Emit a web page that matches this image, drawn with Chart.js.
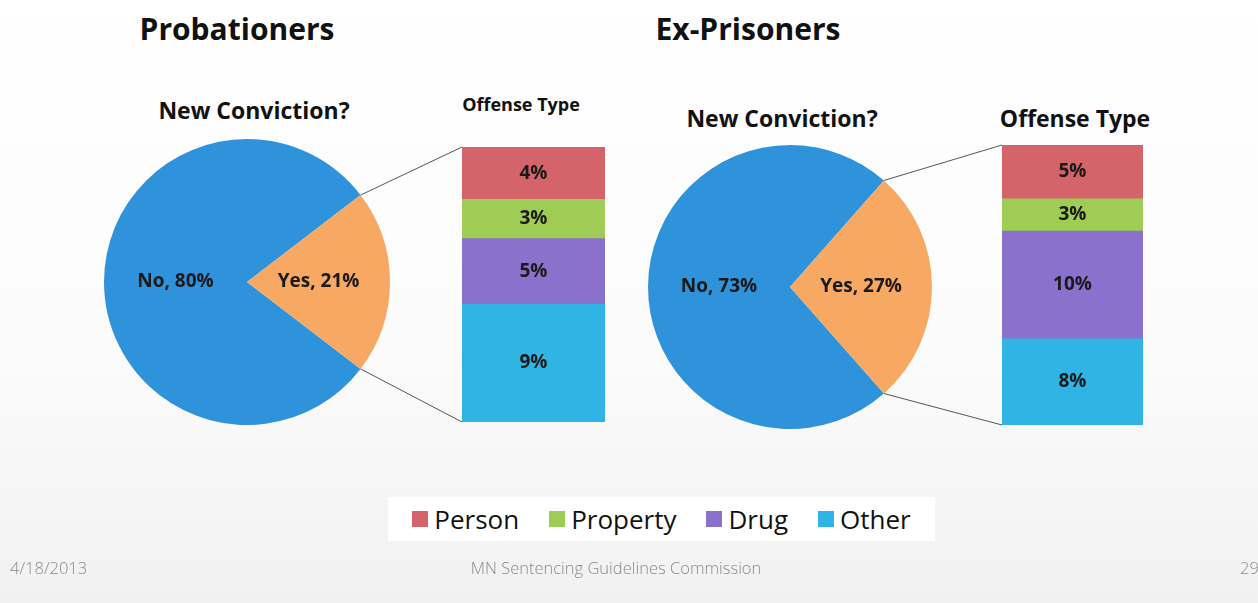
<!DOCTYPE html>
<html>
<head>
<meta charset="utf-8">
<script src="https://cdn.jsdelivr.net/npm/chart.js@4.4.1/dist/chart.umd.min.js"></script>
<style>
  html, body { margin: 0; padding: 0; }
  body {
    width: 1258px; height: 603px; position: relative; overflow: hidden;
    background: linear-gradient(#ffffff 0%, #fbfbfb 60%, #f1f1f1 100%);
    font-family: "Open Sans", "Liberation Sans", sans-serif;
  }
  .t { position: absolute; white-space: nowrap; transform: translate(-50%, -50%); color: #111; font-weight: bold; }
  canvas { position: absolute; }
  #legend {
    position: absolute; left: 388px; top: 497px; width: 547px; height: 44px;
    background: #fff; display: flex; align-items: center; justify-content: center;
    font-size: 26px; color: #111;
  }
  #legend span.sw { display: inline-block; width: 16px; height: 16px; margin-right: 6px; }
  #legend div { display: flex; align-items: center; margin: 0 15px; }
  .foot { position: absolute; top: 556px; font-size: 16.5px; color: #8a8a8a; white-space: nowrap; font-family: "Open Sans", sans-serif; font-weight: 300; }
</style>
</head>
<body>

<div class="t" style="left:237px;top:28px;font-size:30px;">Probationers</div>
<div class="t" style="left:748px;top:28px;font-size:30px;">Ex-Prisoners</div>
<div class="t" style="left:254px;top:110px;font-size:23px;">New Conviction?</div>
<div class="t" style="left:782px;top:118px;font-size:23px;">New Conviction?</div>
<div class="t" style="left:521px;top:104px;font-size:18px;">Offense Type</div>
<div class="t" style="left:1075px;top:118px;font-size:23px;">Offense Type</div>

<canvas id="pie1" width="286" height="286" style="left:104px;top:139px;"></canvas>
<canvas id="bar1" width="143" height="275" style="left:462px;top:147px;"></canvas>
<canvas id="pie2" width="284" height="284" style="left:648px;top:145px;"></canvas>
<canvas id="bar2" width="141" height="280" style="left:1002px;top:145px;"></canvas>
<canvas id="links" width="1258" height="603" style="left:0;top:0;pointer-events:none;"></canvas>

<div id="legend"></div>

<div class="foot" style="left:10px;">4/18/2013</div>
<div class="foot" style="left:616px;transform:translateX(-50%);">MN Sentencing Guidelines Commission</div>
<div class="foot" style="left:1240px;">29</div>

<script>
// data
const convictionLabels = ['No', 'Yes'];
const probationConviction = [80, 21];
const exPrisonConviction = [73, 27];

const offenseTypes = ['Person', 'Property', 'Drug', 'Other'];
const probationOffense = [4, 3, 5, 9];
const exPrisonOffense = [5, 3, 10, 8];

const pieColors = ['#2f93db', '#f7a862'];
const offenseColors = ['#d5636a', '#9fcc55', '#8a72cc', '#2fb4e4'];

const labelFont = 'bold 19px "Open Sans", sans-serif';

// labels inside the pie slices
const pieLabelPlugin = {
  id: 'pieLabels',
  afterDatasetsDraw(chart) {
    const ctx = chart.ctx;
    const ds = chart.data.datasets[0];
    ctx.save();
    ctx.font = labelFont;
    ctx.fillStyle = '#1a1a1a';
    ctx.textAlign = 'center';
    ctx.textBaseline = 'middle';
    chart.getDatasetMeta(0).data.forEach((arc, i) => {
      const p = arc.getCenterPoint();
      ctx.fillText(chart.data.labels[i] + ', ' + ds.data[i] + '%', p.x, p.y);
    });
    ctx.restore();
  }
};

// labels inside the stacked bar pieces
const barLabelPlugin = {
  id: 'barLabels',
  afterDatasetsDraw(chart) {
    const ctx = chart.ctx;
    ctx.save();
    ctx.font = labelFont;
    ctx.fillStyle = '#1a1a1a';
    ctx.textAlign = 'center';
    ctx.textBaseline = 'middle';
    chart.data.datasets.forEach((ds, i) => {
      const bar = chart.getDatasetMeta(i).data[0];
      ctx.fillText(ds.data[0] + '%', bar.x, (bar.y + bar.base) / 2);
    });
    ctx.restore();
  }
};

function makePie(id, values) {
  const total = values.reduce((a, b) => a + b, 0);
  const noDeg = values[0] / total * 360;
  const yesDeg = values[1] / total * 360;
  return new Chart(document.getElementById(id), {
    type: 'pie',
    data: {
      labels: convictionLabels,
      datasets: [{ data: values, backgroundColor: pieColors, borderWidth: 0 }]
    },
    options: {
      responsive: false,
      animation: false,
      rotation: 90 - noDeg - yesDeg / 2, // puts the "Yes" slice at 3 o'clock
      layout: { padding: 0 },
      plugins: { legend: { display: false }, tooltip: { enabled: false } }
    },
    plugins: [pieLabelPlugin]
  });
}

function makeBar(id, values) {
  const total = values.reduce((a, b) => a + b, 0);
  // stack from the bottom: Other, Drug, Property, Person
  const datasets = offenseTypes.map((name, i) => ({
    label: name,
    data: [values[i]],
    backgroundColor: offenseColors[i],
    borderWidth: 0,
    barPercentage: 1,
    categoryPercentage: 1
  })).reverse();
  return new Chart(document.getElementById(id), {
    type: 'bar',
    data: { labels: ['Yes'], datasets: datasets },
    options: {
      responsive: false,
      animation: false,
      layout: { padding: 0 },
      scales: {
        x: { stacked: true, display: false },
        y: { stacked: true, display: false, min: 0, max: total }
      },
      plugins: { legend: { display: false }, tooltip: { enabled: false } }
    },
    plugins: [barLabelPlugin]
  });
}

const pie1 = makePie('pie1', probationConviction);
const bar1 = makeBar('bar1', probationOffense);
const pie2 = makePie('pie2', exPrisonConviction);
const bar2 = makeBar('bar2', exPrisonOffense);

// connector lines from the "Yes" slice edges to the bar corners
function drawLinks(pie, bar) {
  const ctx = document.getElementById('links').getContext('2d');
  const pc = pie.canvas, bc = bar.canvas;
  const arc = pie.getDatasetMeta(0).data[1];
  const ox = pc.offsetLeft, oy = pc.offsetTop;
  const bx = bc.offsetLeft + bar.chartArea.left;
  const top = bc.offsetTop + bar.chartArea.top;
  const bottom = bc.offsetTop + bar.chartArea.bottom;
  const p1 = [ox + arc.x + arc.outerRadius * Math.cos(arc.startAngle), oy + arc.y + arc.outerRadius * Math.sin(arc.startAngle)];
  const p2 = [ox + arc.x + arc.outerRadius * Math.cos(arc.endAngle), oy + arc.y + arc.outerRadius * Math.sin(arc.endAngle)];
  ctx.strokeStyle = '#555';
  ctx.lineWidth = 1;
  ctx.beginPath();
  ctx.moveTo(p1[0], p1[1]); ctx.lineTo(bx, top);
  ctx.moveTo(p2[0], p2[1]); ctx.lineTo(bx, bottom);
  ctx.stroke();
}
drawLinks(pie1, bar1);
drawLinks(pie2, bar2);

// legend
const legend = document.getElementById('legend');
offenseTypes.forEach((name, i) => {
  const d = document.createElement('div');
  d.innerHTML = '<span class="sw" style="background:' + offenseColors[i] + '"></span>' + name;
  legend.appendChild(d);
});
</script>
</body>
</html>
